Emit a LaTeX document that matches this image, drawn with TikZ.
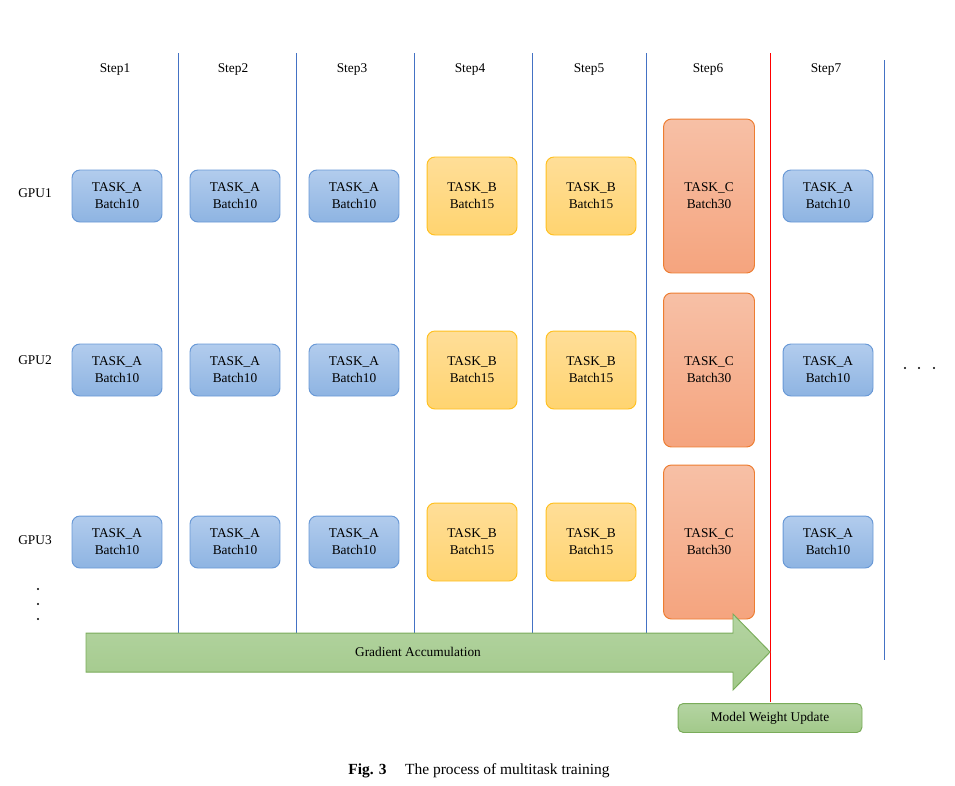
\documentclass[tikz,border=0pt]{standalone}
\usepackage{fontspec}
\setmainfont{Liberation Serif}
\usetikzlibrary{positioning}

\definecolor{aTop}{RGB}{178,204,237}
\definecolor{aBot}{RGB}{142,180,226}
\definecolor{aEdge}{RGB}{104,152,214}
\definecolor{bTop}{RGB}{255,222,152}
\definecolor{bBot}{RGB}{255,212,112}
\definecolor{bEdge}{RGB}{255,192,30}
\definecolor{cTop}{RGB}{247,192,166}
\definecolor{cBot}{RGB}{245,164,126}
\definecolor{cEdge}{RGB}{237,125,49}
\definecolor{gTop}{RGB}{180,212,162}
\definecolor{gBot}{RGB}{162,201,138}
\definecolor{gEdge}{RGB}{122,172,90}
\definecolor{sepBlue}{RGB}{68,114,196}

\tikzset{
  txt/.style={font=\fontsize{7.6}{9.6}\selectfont, inner sep=0pt},
  task/.style={txt, align=center, rounded corners=4.5pt, line width=0.55pt,
    minimum width=1.8cm},
  taskA/.style={task, draw=aEdge, top color=aTop, bottom color=aBot, minimum height=1.04cm},
  taskB/.style={task, draw=bEdge, top color=bTop, bottom color=bBot, minimum height=1.56cm},
  taskC/.style={task, draw=cEdge, top color=cTop, bottom color=cBot, minimum height=3.08cm,
    minimum width=1.82cm},
  sepline/.style={sepBlue, line width=0.45pt},
  dotmark/.style={fill=black, circle, inner sep=0pt, minimum size=1.3pt}
}

\begin{document}
\begin{tikzpicture}[x=0.02cm,y=-0.02cm]
  \useasboundingbox (0,0) rectangle (955,785);
  % step separators
  \foreach \x in {178,296,414,532,646}
    \draw[sepline] (\x,53) -- (\x,633);
  \draw[sepline] (884,60) -- (884,660);
  \draw[red, line width=0.45pt] (770,53) -- (770,702);
  % step titles
  \foreach \i/\x in {1/115,2/233,3/352,4/470,5/589,6/708,7/826}
    \node[txt] (step\i) at (\x,69) {Step\i};
  % gpu rows
  \foreach \r/\y/\ly in {1/196/193,2/370/360,3/542/540}
  {
    \node[txt] (gpu\r) at (35,\ly) {GPU\r};
    \node[taskA] (a1r\r) at (117,\y) {TASK\_A\\Batch10};
    \node[taskA] (a2r\r) at (235,\y) {TASK\_A\\Batch10};
    \node[taskA] (a3r\r) at (354,\y) {TASK\_A\\Batch10};
    \node[taskB] (b4r\r) at (472,\y) {TASK\_B\\Batch15};
    \node[taskB] (b5r\r) at (591,\y) {TASK\_B\\Batch15};
    \node[taskC] (c6r\r) at (709,\y) {TASK\_C\\Batch30};
    \node[taskA] (a7r\r) at (828,\y) {TASK\_A\\Batch10};
  }
  % more gpus / more steps
  \foreach \y in {589,604,619}
    \node[dotmark] at (38,\y) {};
  \foreach \x in {905,919,934}
    \node[dotmark] at (\x,368) {};
  % accumulation arrow
  \draw[gEdge, line width=0.55pt, top color=gTop, bottom color=gBot]
    (86,633) -- (733,633) -- (733,614) -- (770,652) -- (733,690) -- (733,672) -- (86,672) -- cycle;
  \node[txt] (accum) at (418,652) {Gradient Accumulation};
  \node[txt, draw=gEdge, line width=0.55pt, top color=gTop, bottom color=gBot,
    rounded corners=3pt, minimum width=3.68cm, minimum height=0.58cm] (update) at (770,718)
    {Model Weight Update};
  % caption
  \node[font=\fontsize{8.8}{10}\selectfont, inner sep=0pt] (caption) at (479,771)
    {\textbf{Fig. 3}\hspace{1.2em}The process of multitask training};
\end{tikzpicture}
\end{document}
